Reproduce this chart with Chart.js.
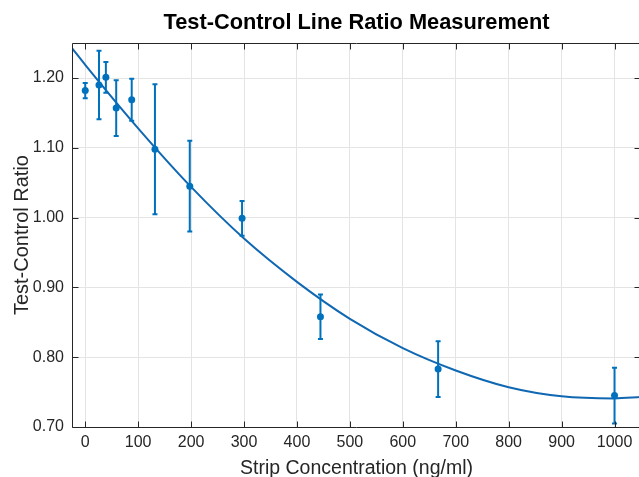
<!DOCTYPE html>
<html>
<head>
<meta charset="utf-8">
<script src="https://cdn.jsdelivr.net/npm/chart.js@4.4.1/dist/chart.umd.min.js"></script>
<style>
    html, body { margin: 0; padding: 0; background: #ffffff; overflow: hidden; }
</style>
</head>
<body>
<!-- el lienzo es un poco más ancho que la ventana: el eje derecho queda fuera, como en el original -->
<canvas id="grafico" width="645" height="477"></canvas>
<script>
// Datos medidos (concentración en ng/ml)
const concentraciones = [0, 26, 39, 58.5, 87.8, 131.7, 197.5, 296.3, 444.4, 666.7, 1000];
const ratios = [1.182, 1.190, 1.201, 1.157, 1.169, 1.098, 1.045, 0.999, 0.858, 0.783, 0.745];
const errores = [0.011, 0.049, 0.022, 0.040, 0.030, 0.093, 0.065, 0.025, 0.032, 0.040, 0.040];

// Curva de ajuste
const ajusteX = [-25, 0, 100, 200, 300, 400, 500, 600, 700, 800, 900, 1000, 1050];
const ajusteY = [1.243, 1.219, 1.128, 1.044, 0.970, 0.908, 0.855, 0.813, 0.781, 0.757, 0.744, 0.741, 0.743];

// Marcas de los ejes
const ticksX = [0, 100, 200, 300, 400, 500, 600, 700, 800, 900, 1000];
const ticksY = [0.70, 0.80, 0.90, 1.00, 1.10, 1.20];

const AZUL = '#0072BD';
const EJE = '#262626';
const FUENTE = '"Liberation Sans", Arial, Helvetica, sans-serif';

// Barras de error y caja de ejes (estilo MATLAB, marcas hacia dentro)
const pluginExtras = {
    id: 'extras',
    afterDatasetsDraw(chart) {
        const { ctx, scales: { x, y } } = chart;
        ctx.save();
        ctx.strokeStyle = AZUL;
        ctx.lineWidth = 2;
        concentraciones.forEach((c, i) => {
            const px = x.getPixelForValue(c);
            const yTop = y.getPixelForValue(ratios[i] + errores[i]);
            const yBot = y.getPixelForValue(ratios[i] - errores[i]);
            ctx.beginPath();
            ctx.moveTo(px, yTop);
            ctx.lineTo(px, yBot);
            ctx.moveTo(px - 2.5, yTop);
            ctx.lineTo(px + 2.5, yTop);
            ctx.moveTo(px - 2.5, yBot);
            ctx.lineTo(px + 2.5, yBot);
            ctx.stroke();
        });
        ctx.restore();
    },
    afterDraw(chart) {
        const { ctx, chartArea: a, scales: { x, y } } = chart;
        const izq = Math.round(a.left) + 0.5;
        const der = Math.round(a.right) - 0.5;
        const arr = Math.round(a.top) + 0.5;
        const abj = Math.round(a.bottom) + 0.5;
        ctx.save();
        ctx.strokeStyle = EJE;
        ctx.lineWidth = 1;
        ctx.beginPath();
        ctx.rect(izq, arr, der - izq, abj - arr);
        ticksX.forEach(v => {
            const px = Math.round(x.getPixelForValue(v)) + 0.5;
            ctx.moveTo(px, abj);
            ctx.lineTo(px, abj - 6);
            ctx.moveTo(px, arr);
            ctx.lineTo(px, arr + 6);
        });
        ticksY.forEach(v => {
            const py = Math.round(y.getPixelForValue(v)) + 0.5;
            ctx.moveTo(izq, py);
            ctx.lineTo(izq + 6, py);
            ctx.moveTo(der, py);
            ctx.lineTo(der - 6, py);
        });
        ctx.stroke();
        ctx.restore();
    }
};

const datos = {
    datasets: [{
        label: 'Medidas',
        type: 'scatter',
        data: concentraciones.map((c, i) => ({ x: c, y: ratios[i] })),
        backgroundColor: AZUL,
        borderColor: AZUL,
        pointRadius: 3.5,
        pointBorderWidth: 0,
        showLine: false
    }, {
        label: 'Ajuste',
        type: 'line',
        data: ajusteX.map((v, i) => ({ x: v, y: ajusteY[i] })),
        borderColor: '#1068b3',
        borderWidth: 2,
        pointRadius: 0,
        fill: false,
        cubicInterpolationMode: 'monotone'
    }]
};

const opciones = {
    responsive: false,
    animation: false,
    devicePixelRatio: 1,
    layout: { padding: 0 },
    plugins: {
        legend: { display: false },
        tooltip: { enabled: false },
        title: {
            display: true,
            fullSize: false,   // centrado sobre el área del gráfico
            text: 'Test-Control Line Ratio Measurement',
            color: '#000000',
            font: { family: FUENTE, size: 21.8, weight: 'bold', lineHeight: 1.2 },
            padding: { top: 10, bottom: 7 }
        }
    },
    scales: {
        x: {
            type: 'linear',
            min: -25,
            max: 1050,
            afterBuildTicks: (scale) => { scale.ticks = ticksX.map(v => ({ value: v })); },
            afterFit: (scale) => {
                scale.height = 50;
                scale.paddingLeft = 0;
                scale.paddingRight = 0;
            },
            grid: { color: '#e4e4e4', lineWidth: 1, drawTicks: false },
            border: { display: false },
            ticks: {
                color: EJE,
                padding: 6,
                maxRotation: 0,
                font: { family: FUENTE, size: 16 },
                callback: (v) => String(v)
            },
            title: {
                display: true,
                text: 'Strip Concentration (ng/ml)',
                color: EJE,
                font: { family: FUENTE, size: 19.5, lineHeight: 0.85 },
                padding: { top: 0, bottom: 0 }
            }
        },
        y: {
            type: 'linear',
            min: 0.70,
            max: 1.25,
            afterBuildTicks: (scale) => { scale.ticks = ticksY.map(v => ({ value: v })); },
            afterFit: (scale) => { scale.width = 72; },
            grid: { color: '#e4e4e4', lineWidth: 1, drawTicks: false },
            border: { display: false },
            ticks: {
                color: EJE,
                padding: 8,
                font: { family: FUENTE, size: 16 },
                callback: (v) => Number(v).toFixed(2)
            },
            title: {
                display: true,
                text: 'Test-Control Ratio',
                color: EJE,
                font: { family: FUENTE, size: 20, lineHeight: 1 },
                padding: { top: 12, bottom: 0 }
            }
        }
    }
};

const ctx = document.getElementById('grafico').getContext('2d');
const miGrafico = new Chart(ctx, { type: 'scatter', data: datos, options: opciones, plugins: [pluginExtras] });
</script>
</body>
</html>
